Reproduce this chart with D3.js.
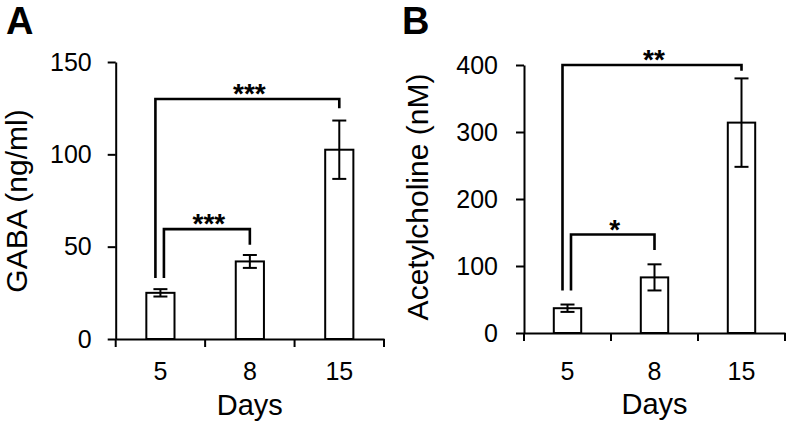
<!DOCTYPE html>
<html>
<head>
<meta charset="utf-8">
<script src="https://cdn.jsdelivr.net/npm/d3@7"></script>
<style>
  html, body { margin: 0; padding: 0; background: #fff; }
  svg { display: block; font-family: "Liberation Sans", Arial, sans-serif; }
</style>
</head>
<body>
<svg id="chart" width="787" height="424"></svg>
<script>
// ---- data ----
const days = ["5", "8", "15"];
const gabaMean = [25, 42, 102.5];
const gabaErr = [2, 3.5, 15.8];
const gabaTicks = [0, 50, 100, 150];
const achMean = [37, 83, 314];
const achErr = [5.5, 19.5, 66];
const achTicks = [0, 100, 200, 300, 400];
// significance brackets: from, to, bracket level, left arm end, right arm end, label
const gabaSig = [
  { from: "5", to: "15", level: 130, leftEnd: 33, rightEnd: 125, label: "***" },
  { from: "5", to: "8", level: 59.5, leftEnd: 33, rightEnd: 51, label: "***" }
];
const achSig = [
  { from: "5", to: "15", level: 400, leftEnd: 63.5, rightEnd: 391.5, label: "**" },
  { from: "5", to: "8", level: 147, leftEnd: 63.5, rightEnd: 124, label: "*" }
];

const svg = d3.select("#chart");

function panel(o) {
  const g = svg.append("g");
  const x = d3.scaleBand().domain(days).range([o.x0, o.x1])
    .paddingInner(0.685).paddingOuter(0.685 / 2);
  const y = d3.scaleLinear().domain([0, o.ticks[o.ticks.length - 1]]).range([o.yb, o.yt]);
  const cx = d => x(d) + x.bandwidth() / 2;

  // y axis
  const ya = g.append("g").attr("transform", `translate(${o.x0},0)`)
    .call(d3.axisLeft(y).tickValues(o.ticks).tickSize(8).tickSizeOuter(0).tickPadding(o.yPad));
  ya.selectAll("path,line").attr("stroke", "#000").attr("stroke-width", 2);
  ya.selectAll("text").attr("font-size", 25).attr("fill", "#000")
    .attr("font-family", "Liberation Sans, Arial, sans-serif");

  // x axis (labels at band centres, ticks at band boundaries)
  const xa = g.append("g").attr("transform", `translate(0,${o.yb})`)
    .call(d3.axisBottom(x).tickSize(0).tickSizeOuter(0).tickPadding(o.xPad));
  xa.select("path").attr("stroke", "#000").attr("stroke-width", 2);
  xa.selectAll("text").attr("font-size", 25).attr("fill", "#000")
    .attr("font-family", "Liberation Sans, Arial, sans-serif");
  const bounds = d3.range(days.length + 1).map(i => o.x0 + i * x.step());
  g.selectAll(".xt").data(bounds).enter().append("line")
    .attr("x1", d => d).attr("x2", d => d)
    .attr("y1", o.yb).attr("y2", o.yb + 8)
    .attr("stroke", "#000").attr("stroke-width", 2);

  // bars
  g.selectAll(".bar").data(days).enter().append("rect")
    .attr("x", d => x(d)).attr("width", x.bandwidth())
    .attr("y", (d, i) => y(o.mean[i]))
    .attr("height", (d, i) => o.yb - y(o.mean[i]))
    .attr("fill", "#fff").attr("stroke", "#000").attr("stroke-width", 2);

  // error bars
  const cap = 7;
  days.forEach((d, i) => {
    const lo = y(o.mean[i] - o.err[i]), hi = y(o.mean[i] + o.err[i]);
    const c = cx(d);
    g.append("line").attr("x1", c).attr("x2", c).attr("y1", lo).attr("y2", hi)
      .attr("stroke", "#000").attr("stroke-width", 2);
    [lo, hi].forEach(v => g.append("line").attr("x1", c - cap).attr("x2", c + cap)
      .attr("y1", v).attr("y2", v).attr("stroke", "#000").attr("stroke-width", 2));
  });

  // significance brackets
  o.sig.forEach((s, k) => {
    const lx = cx(s.from) + (k === 0 ? -5 : 3.5);
    const rx = cx(s.to);
    const ly = y(s.level);
    const path = d3.path();
    path.moveTo(lx, y(s.leftEnd));
    path.lineTo(lx, ly);
    path.lineTo(rx, ly);
    path.lineTo(rx, y(s.rightEnd));
    g.append("path").attr("d", path.toString()).attr("fill", "none")
      .attr("stroke", "#000").attr("stroke-width", 2.6).attr("stroke-linejoin", "miter");
    g.append("text").attr("x", (lx + rx) / 2 + 2).attr("y", ly + 4)
      .attr("text-anchor", "middle").attr("font-size", 28).attr("font-weight", "bold")
      .text(s.label);
  });

  // axis titles
  g.append("text").attr("x", (o.x0 + o.x1) / 2).attr("y", o.daysY)
    .attr("text-anchor", "middle").attr("font-size", 29).text("Days");
  g.append("text").attr("transform", `translate(${o.titleX},${o.titleY}) rotate(-90)`)
    .attr("text-anchor", "middle").attr("font-size", 30).text(o.title);

  // panel letter
  g.append("text").attr("x", o.letterX).attr("y", 34.4)
    .attr("font-size", 38).attr("font-weight", "bold").text(o.letter);
}

panel({
  x0: 115.7, x1: 384, yb: 339, yt: 62, ticks: gabaTicks, mean: gabaMean, err: gabaErr,
  sig: gabaSig, yPad: 16, xPad: 23, daysY: 414.7, title: "GABA (ng/ml)",
  titleX: 27, titleY: 201, letter: "A", letterX: 6
});
panel({
  x0: 524, x1: 785, yb: 333, yt: 65, ticks: achTicks, mean: achMean, err: achErr,
  sig: achSig, yPad: 18, xPad: 29, daysY: 413.7, title: "Acetylcholine (nM)",
  titleX: 428, titleY: 197, letter: "B", letterX: 402
});
</script>
</body>
</html>
